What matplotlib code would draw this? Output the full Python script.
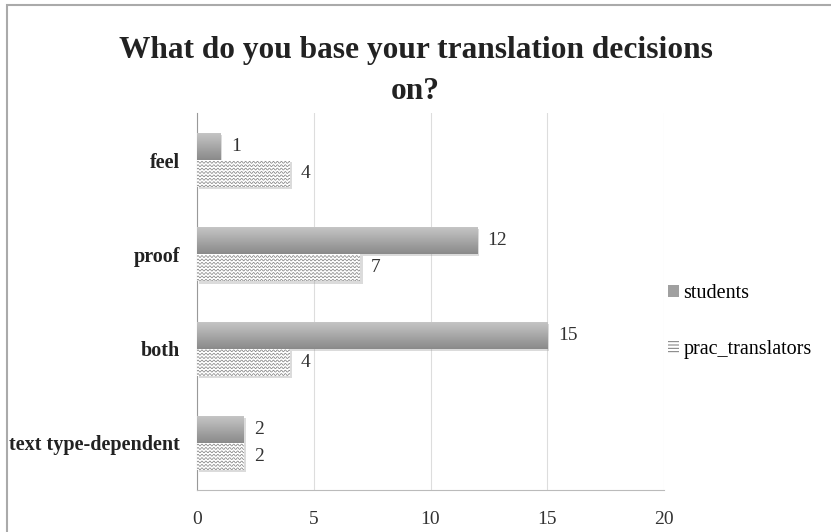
import numpy as np
import matplotlib.pyplot as plt
from matplotlib.patches import Patch, Rectangle
import matplotlib.patheffects as pe

categories = ["feel", "proof", "both", "text type-dependent"]
students = [1, 12, 15, 2]
prac_translators = [4, 7, 4, 2]
xticks = [0, 5, 10, 15, 20]

plt.rcParams['font.family'] = ['Liberation Serif', 'DejaVu Serif']
plt.rcParams['hatch.linewidth'] = 0.7

fig = plt.figure(figsize=(8.31, 5.32), dpi=100)
ax = fig.add_axes([197 / 831, 42 / 532, 467 / 831, 377 / 532])

# feel on top
ypos = np.arange(len(categories))[::-1]
h = 0.287
shadow = [pe.SimplePatchShadow(offset=(1.5, -1.5), shadow_rgbFace='#999999', alpha=0.35), pe.Normal()]

# light at the top, darker at the bottom
grad = np.linspace(0.78, 0.54, 64).reshape(-1, 1)
for y, s, p in zip(ypos, students, prac_translators):
    # students bar: grey vertical gradient
    b1 = ax.barh(y + h / 2, s, height=h, color='#a8a8a8', edgecolor='none', zorder=3)[0]
    b1.set_path_effects(shadow)
    im = ax.imshow(grad, cmap='gray', vmin=0, vmax=1, extent=[0, s, y, y + h],
                   aspect='auto', origin='upper', zorder=3.5)
    im.set_clip_path(b1)
    ax.text(s + 0.45, y + h / 2, str(s), va='center', ha='left', fontsize=14, color='#333333')

    # prac_translators bar: white with wavy lines
    b2 = ax.barh(y - h / 2, p, height=h, color='white', edgecolor='none', zorder=3)[0]
    b2.set_path_effects(shadow)
    xs = np.linspace(0, p, int(p * 60) + 2)
    for k in np.arange(y - h + 0.012, y, 0.036):
        line, = ax.plot(xs, k + 0.010 * np.sin(2 * np.pi * xs / 0.17), color='#7a7a7a', lw=0.5, zorder=4)
        line.set_clip_path(b2)
    ax.text(p + 0.45, y - h / 2, str(p), va='center', ha='left', fontsize=14, color='#333333')

ax.set_xlim(0, 20)
ax.set_ylim(-0.5, len(categories) - 0.5)
ax.set_xticks(xticks)
ax.set_xticklabels([str(t) for t in xticks], fontsize=14, color='#333333')
ax.set_yticks(ypos)
ax.set_yticklabels(categories, fontsize=14.5, fontweight='bold', color='#222222')
ax.tick_params(axis='x', length=0, pad=15)
ax.tick_params(axis='y', length=0, pad=12)
ax.grid(axis='x', color='#dddddd', lw=0.8, zorder=0)
ax.set_axisbelow(True)
for side in ['top', 'right']:
    ax.spines[side].set_visible(False)
ax.spines['left'].set_color('#999999')
ax.spines['bottom'].set_color('#bbbbbb')

fig.text(0.5, 1 - 71 / 532, "What do you base your translation decisions\non?",
         ha='center', va='center', fontsize=22.6, fontweight='bold', color='#222222', linespacing=1.55)

handles = [Patch(facecolor='#a0a0a0', edgecolor='none'),
           Patch(facecolor='white', edgecolor='#777777', hatch='-----', lw=0)]
fig.legend(handles, ["students", "prac_translators"], loc='center left',
           bbox_to_anchor=(650 / 831, 1 - 321.5 / 532), frameon=False, fontsize=14.5,
           handlelength=0.55, handleheight=0.55, handletextpad=0.2, labelspacing=1.85)

fig.patches.append(Rectangle((7 / 831, -0.1), 1.2, 1 - 4.5 / 532 + 0.1, transform=fig.transFigure,
                             fill=False, edgecolor='#aaaaaa', lw=1.5))

fig.savefig("out.png", dpi=100)
